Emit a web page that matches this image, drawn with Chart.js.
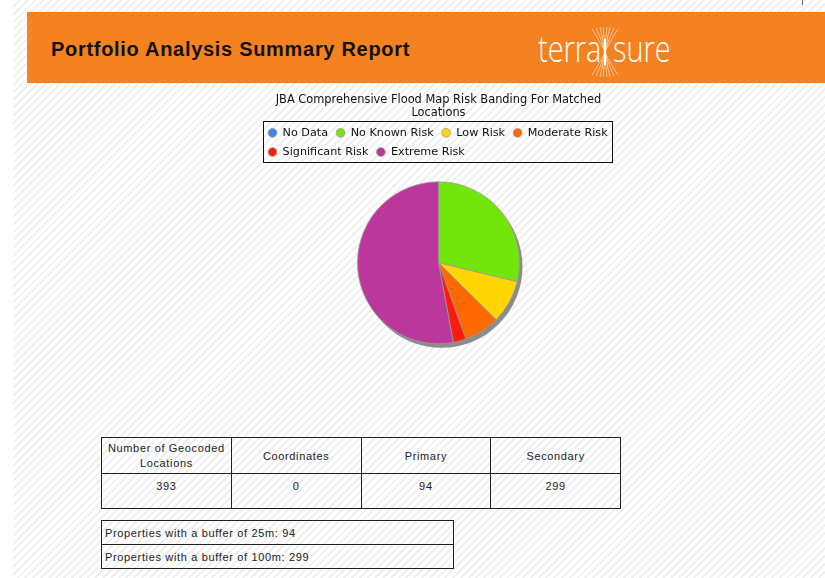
<!DOCTYPE html>
<html>
<head>
<meta charset="utf-8">
<script src="https://cdn.jsdelivr.net/npm/chart.js@4.4.1/dist/chart.umd.min.js"></script>
<style>
  html, body { margin: 0; padding: 0; }
  body {
    width: 825px; height: 578px; overflow: hidden; position: relative;
    background: #fff;
    font-family: "Liberation Sans", Arial, sans-serif;
  }
  .hatch {
    position: absolute; left: 13px; top: 0; right: 0; bottom: 0;
    background: repeating-linear-gradient(-45deg, #fff 0px, #fff 3.5px, #f0f0f0 3.5px, #f0f0f0 5.5px);
  }
  .tick { position: absolute; left: 802px; top: 0; width: 1px; height: 5px; background: #666; }
  .header {
    position: absolute; left: 27px; top: 12px; width: 798px; height: 71px;
    background: #f58220;
  }
  .header h1 {
    position: absolute; left: 24px; top: 26px; margin: 0;
    font: bold 20px "Liberation Sans", Arial, sans-serif; color: #111;
    letter-spacing: 0.7px;
  }
  .logo {
    position: absolute; left: 510px; top: 10px; width: 160px; height: 54px;
    color: #fff; white-space: nowrap;
  }
  .logo span {
    position: absolute; top: 0; font: 300 37px "Open Sans", "Lato", sans-serif;
    transform: scaleX(0.78); transform-origin: 0 0;
  }
  .logo svg { position: absolute; left: 54px; top: 4px; }
  #wrap { position: absolute; left: 260px; top: 88px; width: 357px; height: 270px; }
  table { position: absolute; border-collapse: collapse; font-size: 11px; letter-spacing: 0.65px; color: #222; }
  table td { border: 1px solid #222; padding: 0; }
  #geo { left: 101px; top: 437px; width: 520px; }
  #geo td { width: 129px; text-align: center; }
  #geo tr.h td { height: 34px; vertical-align: middle; line-height: 15px; padding-top: 1px; }
  #geo tr.d td { height: 35px; vertical-align: top; padding-top: 6px; box-sizing: border-box; }
  #buf { left: 101px; top: 520px; width: 353px; }
  #buf td { height: 23px; padding-left: 3px; vertical-align: middle; }
</style>
</head>
<body>
<div class="hatch"></div>
<div class="tick"></div>
<div class="header">
  <h1>Portfolio Analysis Summary Report</h1>
  <div class="logo">
    <span style="left:1px">terra</span>
    <svg width="28" height="52" viewBox="0 0 28 52">
      <g fill="none" stroke="#fff" stroke-width="0.6" opacity="0.85">
        <path d="M1 3 Q13 22 14 26 Q13 30 1 49"/>
        <path d="M5 2 Q13 20 14 26 Q13 32 5 50"/>
        <path d="M9 1 Q13 18 14 26 Q13 34 9 51"/>
        <path d="M12 1 Q14 16 14 26 Q14 36 12 51"/>
        <path d="M16 1 Q14 16 14 26 Q14 36 16 51"/>
        <path d="M19 1 Q15 18 14 26 Q15 34 19 51"/>
        <path d="M23 2 Q15 20 14 26 Q15 32 23 50"/>
        <path d="M27 3 Q15 22 14 26 Q15 30 27 49"/>
      </g>
      <line x1="14" y1="13" x2="14" y2="39" stroke="#fff" stroke-width="2.2"/>
    </svg>
    <span style="left:76px">sure</span>
  </div>
</div>

<div id="wrap"><canvas id="pie"></canvas></div>

<table id="geo">
  <tr class="h">
    <td id="h0"></td><td id="h1"></td><td id="h2"></td><td id="h3"></td>
  </tr>
  <tr class="d">
    <td id="v0"></td><td id="v1"></td><td id="v2"></td><td id="v3"></td>
  </tr>
</table>

<table id="buf">
  <tr><td id="b0"></td></tr>
  <tr><td id="b1"></td></tr>
</table>

<script>
'use strict';

const TITLE_LINES = ['JBA Comprehensive Flood Map Risk Banding For Matched', 'Locations'];
const RISK_BANDS = ['No Data', 'No Known Risk', 'Low Risk', 'Moderate Risk', 'Significant Risk', 'Extreme Risk'];
const LOCATION_COUNTS = [0, 113, 34, 28, 10, 208];
const BAND_COLOURS = ['#3b86f0', '#72e60a', '#ffd600', '#ff6a00', '#ff1a0a', '#bc379c'];

const GEO_HEADERS = ['Number of Geocoded<br>Locations', 'Coordinates', 'Primary', 'Secondary'];
const GEO_VALUES = [393, 0, 94, 299];
const BUFFER_LABELS = ['Properties with a buffer of 25m', 'Properties with a buffer of 100m'];
const BUFFER_VALUES = [94, 299];

/* Fill the two tables from the arrays above */
for(let i = 0; i < GEO_HEADERS.length; i++) {
  document.getElementById('h' + i).innerHTML = GEO_HEADERS[i];
  document.getElementById('v' + i).textContent = GEO_VALUES[i];
}
for(let i = 0; i < BUFFER_LABELS.length; i++) {
  document.getElementById('b' + i).textContent = BUFFER_LABELS[i] + ': ' + BUFFER_VALUES[i];
}

/* Grey drop shadow under the pie, plus the frame round the legend */
const pieExtras = {
  id: 'pieExtras',
  beforeDatasetsDraw(chart) {
    const arc = chart.getDatasetMeta(0).data[0];
    if(!arc) return;
    const ctx = chart.ctx;
    ctx.save();
    ctx.fillStyle = '#8c8c8c';
    ctx.beginPath();
    ctx.arc(arc.x + 3, arc.y + 4, arc.outerRadius, 0, Math.PI * 2);
    ctx.fill();
    ctx.restore();
  },
  afterDraw(chart) {
    const boxes = chart.legend.legendHitBoxes;
    if(!boxes || !boxes.length) return;
    let left = Infinity, top = Infinity, right = -Infinity, bottom = -Infinity;
    boxes.forEach(b => {
      left = Math.min(left, b.left);
      top = Math.min(top, b.top);
      right = Math.max(right, b.left + b.width);
      bottom = Math.max(bottom, b.top + b.height);
    });
    const ctx = chart.ctx;
    ctx.save();
    ctx.strokeStyle = '#111';
    ctx.lineWidth = 1;
    ctx.strokeRect(Math.round(left - 5) + 0.5, Math.round(top - 6) + 0.5,
      Math.round(right - left + 9), Math.round(bottom - top + 11));
    ctx.restore();
  }
};

new Chart(document.getElementById('pie'), {
  type: 'pie',
  data: {
    labels: RISK_BANDS,
    datasets: [{
      data: LOCATION_COUNTS,
      backgroundColor: BAND_COLOURS,
      borderColor: '#9a9a9a',
      borderWidth: 0.8,
      radius: 81
    }]
  },
  plugins: [pieExtras],
  options: {
    responsive: true,
    maintainAspectRatio: false,
    animation: false,
    layout: { padding: 0 },
    plugins: {
      tooltip: { enabled: false },
      title: {
        display: true,
        text: TITLE_LINES,
        color: '#111',
        font: { family: 'DejaVu Sans', size: 11.4, weight: 'normal', lineHeight: 1.15 },
        padding: { top: 5, bottom: 0 }
      },
      legend: {
        position: 'top',
        align: 'start',
        labels: {
          color: '#111',
          font: { family: 'DejaVu Sans', size: 11.2 },
          usePointStyle: true,
          pointStyle: 'circle',
          boxWidth: 9,
          boxHeight: 6.2,
          padding: 8
        }
      }
    }
  }
});
</script>
</body>
</html>
